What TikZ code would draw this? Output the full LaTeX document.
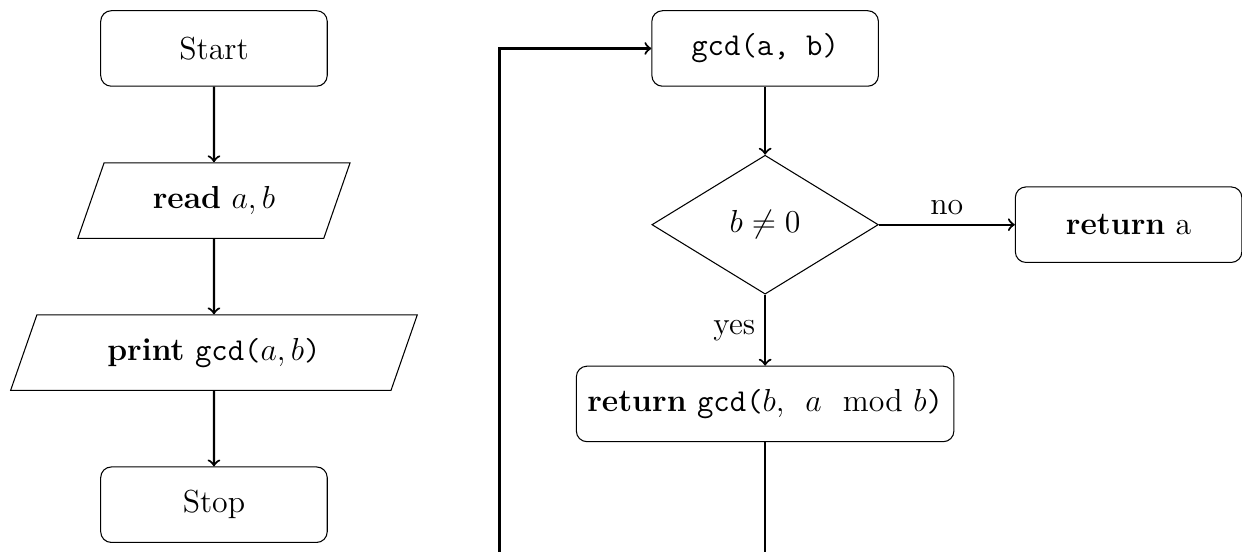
\documentclass[tikz,border=0pt]{standalone}
\usepackage{amsmath}
\usetikzlibrary{positioning,shapes.geometric}
\tikzset{
  startstop/.style={rectangle,rounded corners=4pt,draw=black,minimum width=3cm,minimum height=1cm,align=center},
  process/.style={startstop,minimum width=5cm},
  io/.style={trapezium,trapezium left angle=70,trapezium right angle=110,trapezium stretches=true,draw=black,minimum height=1cm,align=center},
  decision/.style={diamond,draw=black,minimum width=3cm,minimum height=1.84cm,aspect=1.63,inner sep=1pt},
  arrow/.style={thick,->}
}
\begin{document}
\begin{tikzpicture}[font=\large,node distance=1cm]
  \useasboundingbox (-2.834,0.642) rectangle (13.616,-6.656);
  % main program
  \node[startstop] (start) {Start};
  \node[io,minimum width=3.63cm,below=of start] (read) {\textbf{read} $a, b$};
  \node[io,minimum width=5.39cm,below=of read] (print) {\textbf{print} \texttt{gcd(}$a, b$\texttt{)}};
  \node[startstop,below=of print] (stop) {Stop};
  % gcd function
  \node[startstop] (gcd) at (7.3,0) {\texttt{gcd(a, b)}};
  \node[decision,below=0.9cm of gcd] (test) {$b \neq 0$};
  \node[startstop,right=1.8cm of test] (reta) {\textbf{return} a};
  \node[process,below=0.94cm of test] (recur) {\textbf{return} \texttt{gcd(}$b$, \ $a \mod b$\texttt{)}};
  \coordinate (loop) at (3.782,-7);
  \draw[arrow] (start) -- (read);
  \draw[arrow] (read) -- (print);
  \draw[arrow] (print) -- (stop);
  \draw[arrow] (gcd) -- (test);
  \draw[arrow] (test) -- node[above]{no} (reta);
  \draw[arrow] (test) -- node[left]{yes} (recur);
  \draw[arrow] (recur.south) |- (loop) |- (gcd.west);
\end{tikzpicture}
\end{document}
